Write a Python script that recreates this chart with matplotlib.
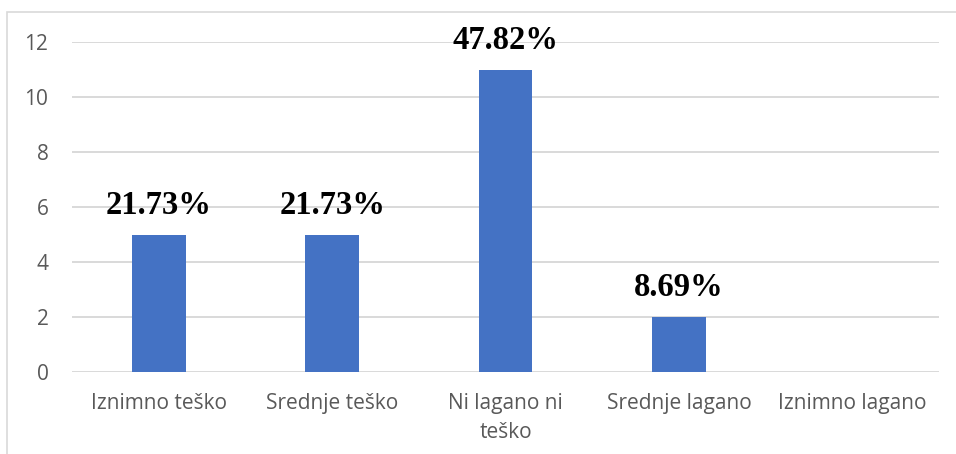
import matplotlib
matplotlib.use("Agg")
import matplotlib.pyplot as plt
from matplotlib.patches import Rectangle

categories = ["Iznimno teško", "Srednje teško", "Ni lagano ni\nteško", "Srednje lagano", "Iznimno lagano"]
values = [5, 5, 11, 2, 0]
pct_labels = ["21.73%", "21.73%", "47.82%", "8.69%", ""]
yticks = [0, 2, 4, 6, 8, 10, 12]

fig = plt.figure(figsize=(9.56, 4.54), dpi=100)
fig.patches.append(Rectangle((7/956, -0.1), 1.1, 1 - 12/454 + 0.1, transform=fig.transFigure,
                             fill=False, edgecolor="#d9d9d9", linewidth=1.2))
ax = fig.add_axes([72/956, 1 - 372/454, (939 - 72)/956, (372 - 42)/454])

x = range(len(categories))
ax.bar(x, values, width=0.31, color="#4472C4", zorder=3)
ax.set_xlim(-0.5, len(categories) - 0.5)
ax.set_ylim(0, 12)
ax.set_yticks(yticks)
ax.set_yticklabels([str(t) for t in yticks])
ax.set_xticks(list(x))
ax.set_xticklabels(categories, linespacing=1.5)
ax.grid(axis="y", color="#d9d9d9", linewidth=1.4, zorder=0)
for s in ax.spines.values():
    s.set_visible(False)
ax.tick_params(axis="both", length=0, labelcolor="#595959", labelsize=15)
ax.tick_params(axis="x", pad=15)
ax.tick_params(axis="y", pad=17)
for lbl in ax.get_xticklabels() + ax.get_yticklabels():
    lbl.set_fontfamily("Open Sans")

for xi, v, t in zip(x, values, pct_labels):
    if t:
        ax.annotate(t, (xi, v), xytext=(0, 10), textcoords="offset points",
                    ha="center", va="bottom", fontsize=23.5, fontweight="bold",
                    family="Liberation Serif", color="black")

fig.savefig("out.png", dpi=100)
